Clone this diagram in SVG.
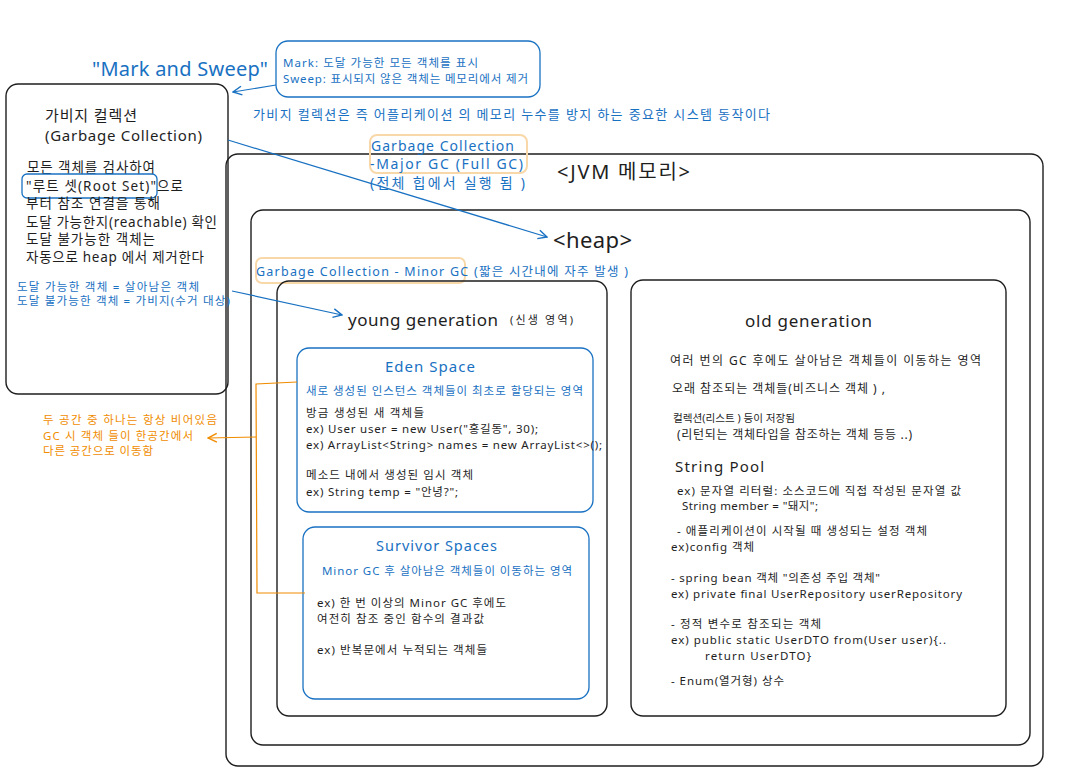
<svg xmlns="http://www.w3.org/2000/svg" width="1076" height="782" viewBox="0 0 1076 782">
<style>
text{font-family:"Noto Sans","Noto Sans CJK KR",sans-serif;fill:#1e1e1e;}
.b{fill:#1971c2;}
.o{fill:#f08c00;}
.box{fill:none;stroke:#1e1e1e;stroke-width:1.4;}
.bbox{fill:none;stroke:#1971c2;stroke-width:1.3;}
.hl{fill:none;stroke:#f8d8a8;stroke-width:2;}
.cb{fill:none;stroke:#1971c2;stroke-width:1.2;}
.co{fill:none;stroke:#f08c00;stroke-width:1.2;}
</style>
<defs>
<marker id="ab" viewBox="0 0 10 10" refX="9" refY="5" markerWidth="11" markerHeight="11" markerUnits="userSpaceOnUse" orient="auto"><path d="M1,1 L9,5 L1,9" fill="none" stroke="#1971c2" stroke-width="1.3"/></marker>
<marker id="ao" viewBox="0 0 10 10" refX="9" refY="5" markerWidth="11" markerHeight="11" markerUnits="userSpaceOnUse" orient="auto"><path d="M1,1 L9,5 L1,9" fill="none" stroke="#f08c00" stroke-width="1.3"/></marker>
</defs>
<rect width="1076" height="782" fill="#ffffff"/>

<g id="jvm">
<rect class="box" x="226" y="154" width="817" height="612" rx="12"/>
<text x="557" y="179" font-size="20" textLength="133" lengthAdjust="spacing">&lt;JVM 메모리&gt;</text>
</g>

<g id="heap">
<rect class="box" x="251" y="210" width="779" height="535" rx="12"/>
<text x="553" y="248" font-size="22" textLength="79" lengthAdjust="spacing">&lt;heap&gt;</text>
</g>

<g id="major-gc">
<rect class="hl" x="370" y="135" width="157" height="38" rx="7"/>
<text class="b" x="371" y="151" font-size="14" textLength="143" lengthAdjust="spacing">Garbage Collection</text>
<text class="b" x="370" y="169" font-size="14" textLength="153" lengthAdjust="spacing">-Major GC (Full GC)</text>
<text class="b" x="370" y="188" font-size="14" textLength="155" lengthAdjust="spacing">(전체 힙에서 실행 됨 )</text>
</g>

<g id="minor-gc">
<rect class="hl" x="256" y="258" width="209" height="25" rx="6"/>
<text class="b" x="256" y="276" font-size="12.5" textLength="372" lengthAdjust="spacing">Garbage Collection - Minor GC (짧은 시간내에 자주 발생 )</text>
</g>

<g id="young-generation">
<rect class="box" x="277" y="281" width="330" height="435" rx="12"/>
<text x="348" y="326" font-size="17" textLength="150" lengthAdjust="spacing">young generation</text>
<text x="510" y="324" font-size="11" textLength="63" lengthAdjust="spacing">(신생 영역)</text>
</g>

<g id="eden-space">
<rect class="bbox" x="297" y="348" width="296" height="164" rx="12"/>
<text class="b" x="385" y="372" font-size="15" textLength="90" lengthAdjust="spacing">Eden Space</text>
<text class="b" x="306" y="395" font-size="11.5" textLength="277" lengthAdjust="spacing">새로 생성된 인스턴스 객체들이 최초로 할당되는 영역</text>
<text x="306" y="417" font-size="11.5" textLength="118" lengthAdjust="spacing">방금 생성된 새 객체들</text>
<text x="306" y="433" font-size="11.5" textLength="232" lengthAdjust="spacing">ex) User user = new User("홍길동", 30);</text>
<text x="306" y="449" font-size="11.5" textLength="296" lengthAdjust="spacing">ex) ArrayList&lt;String&gt; names = new ArrayList&lt;&gt;();</text>
<text x="306" y="479" font-size="11.5" textLength="167" lengthAdjust="spacing">메소드 내에서 생성된 임시 객체</text>
<text x="306" y="496" font-size="11.5" textLength="152" lengthAdjust="spacing">ex) String temp = "안녕?";</text>
</g>

<g id="survivor-spaces">
<rect class="bbox" x="303" y="527" width="286" height="172" rx="12"/>
<text class="b" x="376" y="551" font-size="14.5" textLength="121" lengthAdjust="spacing">Survivor Spaces</text>
<text class="b" x="322" y="575" font-size="11.5" textLength="250" lengthAdjust="spacing">Minor GC 후 살아남은 객체들이 이동하는 영역</text>
<text x="317" y="607" font-size="11.5" textLength="189" lengthAdjust="spacing">ex) 한 번 이상의 Minor GC 후에도</text>
<text x="317" y="623" font-size="11.5" textLength="167" lengthAdjust="spacing">여전히 참조 중인 함수의 결과값</text>
<text x="317" y="654" font-size="11.5" textLength="170" lengthAdjust="spacing">ex) 반복문에서 누적되는 객체들</text>
</g>

<g id="old-generation">
<rect class="box" x="631" y="280" width="375" height="436" rx="12"/>
<text x="745" y="327" font-size="17" textLength="127" lengthAdjust="spacing">old generation</text>
<text x="670" y="365" font-size="12" textLength="311" lengthAdjust="spacing">여러 번의 GC 후에도 살아남은 객체들이 이동하는 영역</text>
<text x="672" y="393" font-size="12" textLength="213" lengthAdjust="spacing">오래 참조되는 객체들(비즈니스 객체 ) ,</text>
<text x="673" y="422" font-size="10.5" textLength="122" lengthAdjust="spacingAndGlyphs">컬렉션(리스트 ) 등이 저장됨</text>
<text x="677" y="439" font-size="12" textLength="235" lengthAdjust="spacing">(리턴되는 객체타입을 참조하는 객체 등등 ..)</text>
<text x="675" y="472" font-size="15" textLength="89" lengthAdjust="spacing">String Pool</text>
<text x="677" y="495" font-size="11.5" textLength="284" lengthAdjust="spacing">ex) 문자열 리터럴: 소스코드에 직접 작성된 문자열 값</text>
<text x="682" y="510" font-size="11.5" textLength="136" lengthAdjust="spacing">String member = "돼지";</text>
<text x="677" y="535" font-size="11.5" textLength="250" lengthAdjust="spacing">- 애플리케이션이 시작될 때 생성되는 설정 객체</text>
<text x="671" y="551" font-size="11.5" textLength="83" lengthAdjust="spacing">ex)config 객체</text>
<text x="671" y="582" font-size="11.5" textLength="209" lengthAdjust="spacing">- spring bean 객체 "의존성 주입 객체"</text>
<text x="671" y="598" font-size="11.5" textLength="291" lengthAdjust="spacing">ex) private final UserRepository userRepository</text>
<text x="671" y="628" font-size="11.5" textLength="150" lengthAdjust="spacing">- 정적 변수로 참조되는 객체</text>
<text x="671" y="644" font-size="11.5" textLength="275" lengthAdjust="spacing">ex) public static UserDTO from(User user){..</text>
<text x="705" y="660" font-size="11.5" textLength="106" lengthAdjust="spacing">return UserDTO}</text>
<text x="671" y="685" font-size="11.5" textLength="113" lengthAdjust="spacing">- Enum(열거형) 상수</text>
</g>

<g id="garbage-collection">
<rect class="box" x="6" y="84" width="222" height="310" rx="12"/>
<text x="45" y="121" font-size="15" textLength="92" lengthAdjust="spacing">가비지 컬렉션</text>
<text x="45" y="141" font-size="15" textLength="157" lengthAdjust="spacing">(Garbage Collection)</text>
<text x="27" y="172" font-size="13.5" textLength="128" lengthAdjust="spacing">모든 객체를 검사하여</text>
<rect class="bbox" x="22" y="174" width="135" height="24" rx="5"/>
<text x="26" y="191" font-size="13.5" textLength="157" lengthAdjust="spacing">"루트 셋(Root Set)"으로</text>
<text x="26" y="208" font-size="13.5" textLength="134" lengthAdjust="spacing">부터 참조 연결을 통해</text>
<text x="26" y="227" font-size="13.5" textLength="191" lengthAdjust="spacing">도달 가능한지(reachable) 확인</text>
<text x="26" y="244" font-size="13.5" textLength="129" lengthAdjust="spacing">도달 불가능한 객체는</text>
<text x="26" y="262" font-size="13.5" textLength="178" lengthAdjust="spacing">자동으로 heap 에서 제거한다</text>
<text class="b" x="17" y="291" font-size="11.5" textLength="182" lengthAdjust="spacing">도달 가능한 객체 = 살아남은 객체</text>
<text class="b" x="17" y="305" font-size="11.5" textLength="213" lengthAdjust="spacing">도달 불가능한 객체 = 가비지(수거 대상)</text>
</g>

<g id="mark-and-sweep">
<text class="b" x="92" y="76" font-size="20" textLength="176" lengthAdjust="spacing">"Mark and Sweep"</text>
<rect class="bbox" x="276" y="41" width="264" height="56" rx="12"/>
<text class="b" x="283" y="67" font-size="11.5" textLength="195" lengthAdjust="spacing">Mark: 도달 가능한 모든 객체를 표시</text>
<text class="b" x="283" y="83" font-size="11.5" textLength="245" lengthAdjust="spacing">Sweep: 표시되지 않은 객체는 메모리에서 제거</text>
</g>

<g id="gc-summary">
<text class="b" x="253" y="119" font-size="13" textLength="517" lengthAdjust="spacing">가비지 컬렉션은 즉 어플리케이션 의 메모리 누수를 방지 하는 중요한 시스템 동작이다</text>
</g>

<g id="survivor-note">
<text class="o" x="43" y="424" font-size="11.5" textLength="174" lengthAdjust="spacing">두 공간 중 하나는 항상 비어있음</text>
<text class="o" x="43" y="440" font-size="11.5" textLength="150" lengthAdjust="spacing">GC 시 객체 들이 한공간에서</text>
<text class="o" x="43" y="455" font-size="11.5" textLength="110" lengthAdjust="spacing">다른 공간으로 이동함</text>
</g>

<g id="connectors">
<line class="cb" x1="276" y1="85" x2="233" y2="92" marker-end="url(#ab)"/>
<line class="cb" x1="228" y1="140" x2="547" y2="237" marker-end="url(#ab)"/>
<line class="cb" x1="232" y1="291" x2="342" y2="315" marker-end="url(#ab)"/>
<polyline class="co" points="297,382 256,384 257,593 305,593"/>
<line class="co" x1="256" y1="437" x2="208" y2="438" marker-end="url(#ao)"/>
</g>
</svg>
